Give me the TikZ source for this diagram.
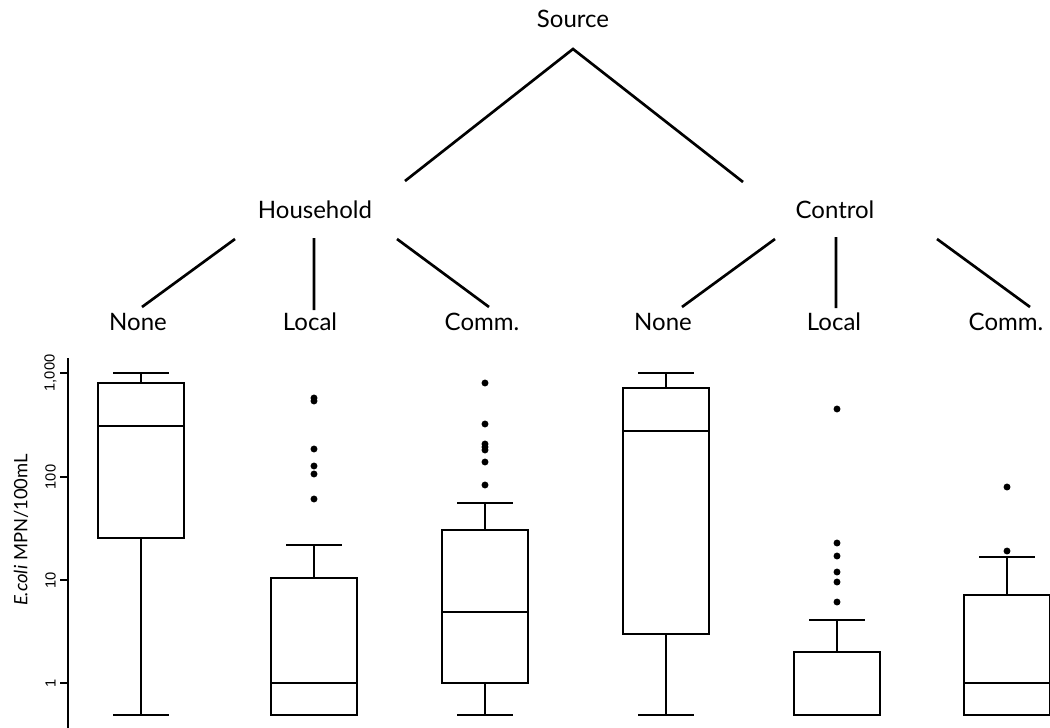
\documentclass[tikz,border=0pt]{standalone}
\usepackage{fontspec}
\setmainfont{Lato}
\newfontfamily\tickfont{Liberation Sans}
\usetikzlibrary{positioning}

\begin{document}
\begin{tikzpicture}[x=0.75pt, y=-0.75pt, every node/.style={font=\fontsize{18}{20}\selectfont, inner sep=0pt},
  branch/.style={line width=2pt}, bx/.style={line width=0.9pt}]
\useasboundingbox (0,0) rectangle (1050,728);

\node (source) [anchor=base] at (573,27) {Source};
\node (house) [anchor=base] at (315,218) {Household};
\node (ctrl) [anchor=base] at (835,218) {Control};

\node (none1) [anchor=base] at (138,330) {None};
\node (local1) [anchor=base] at (310,330) {Local};
\node (comm1) [anchor=base] at (482,330) {Comm.};
\node (none2) [anchor=base] at (663,330) {None};
\node (local2) [anchor=base] at (834,330) {Local};
\node (comm2) [anchor=base] at (1006,330) {Comm.};

\coordinate (apex) at (573,49);
\coordinate (house-up) at (405,181);
\coordinate (ctrl-up) at (743,182);
\draw[branch] (house-up) -- (apex) -- (ctrl-up);

% -------------------------------

\coordinate (house-l) at (235,239);  \coordinate (none1-up) at (142,307);
\coordinate (house-m) at (314,238);  \coordinate (local1-up) at (314,310);
\coordinate (house-r) at (397,239);  \coordinate (comm1-up) at (489,307);
\draw[branch] (house-l) -- (none1-up) (house-m) -- (local1-up) (house-r) -- (comm1-up);

\coordinate (ctrl-l) at (775,239);  \coordinate (none2-up) at (682,307);
\coordinate (ctrl-m) at (836,237);  \coordinate (local2-up) at (836,308);
\coordinate (ctrl-r) at (937,239);  \coordinate (comm2-up) at (1030,307);
\draw[branch] (ctrl-l) -- (none2-up) (ctrl-m) -- (local2-up) (ctrl-r) -- (comm2-up);

% -------------------------------

\draw[bx] (68,358) -- (68,728);
\foreach \v/\lab in {373/{1,000}, 477/100, 580/10, 683/1} {
  \draw[bx] (60,\v) -- (68,\v);
  \node (tick\v) [rotate=90, font=\tickfont\fontsize{11}{13}\selectfont] at (50.5,\v) {\lab};
}
\node (ylab) [rotate=90, font=\fontsize{13.8}{16}\selectfont] at (21,530) {\textit{E.coli} MPN/100mL};

\foreach \c/\wt/\bt/\m/\bb in {141/373/383/426/538, 314/545/578/683/715, 485/503/530/612/683,
                               666/373/388/431/634, 837/620/652/715/715, 1007/557/595/683/715} {
  \draw[bx] (\c-43,\bt) rectangle (\c+43,\bb);
  \draw[bx] (\c-43,\m) -- (\c+43,\m);
  \draw[bx] (\c,\bt) -- (\c,\wt) (\c-28,\wt) -- (\c+28,\wt);
  \draw[bx] (\c,\bb) -- (\c,715) (\c-28,715) -- (\c+28,715);
}

\foreach \c/\v in {314/398, 314/401, 314/449, 314/466, 314/474, 314/499,
                   485/383, 485/424, 485/444, 485/447, 485/450, 485/462, 485/485,
                   837/409, 837/543, 837/556, 837/572, 837/582, 837/602,
                   1007/487, 1007/551}
  \fill (\c,\v) circle (2.6pt);
\end{tikzpicture}
\end{document}
